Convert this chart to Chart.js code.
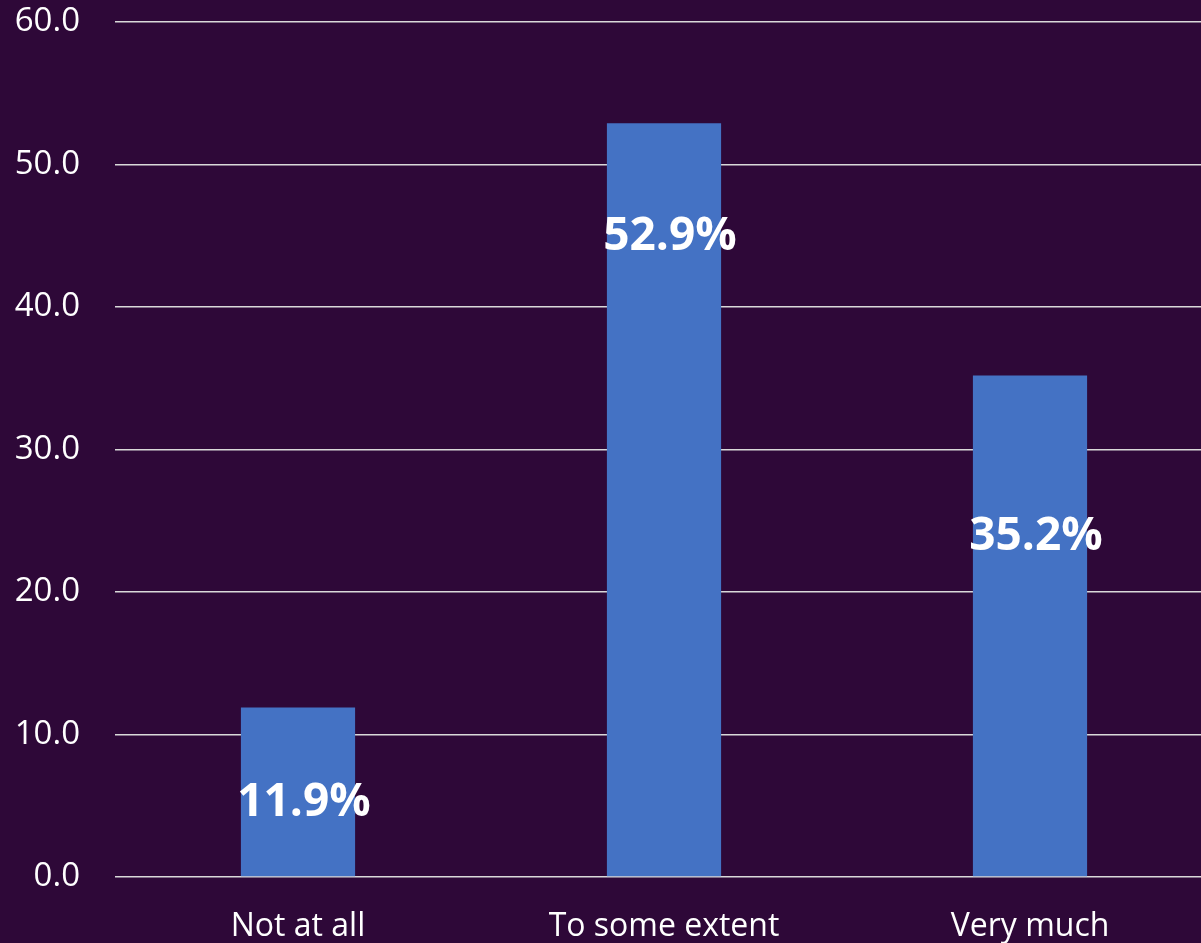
<!DOCTYPE html>
<html>
<head>
<meta charset="utf-8">
<script src="https://cdn.jsdelivr.net/npm/chart.js@4.4.1/dist/chart.umd.min.js"></script>
<style>
  html, body { margin: 0; padding: 0; background: #2E0838; overflow: hidden; }
  #wrap { width: 1213px; height: 943px; }
</style>
</head>
<body>
<div id="wrap"><canvas id="barChart" width="1213" height="943"></canvas></div>
<script>
// Chart data
var categories = ['Not at all', 'To some extent', 'Very much'];
var shares = [11.9, 52.9, 35.2];
// where each value label sits, in axis units (hand placed in the original)
var labelAnchor = [5.2, 44.9, 23.9];
var yTicks = [0, 10, 20, 30, 40, 50, 60];

// Draws the bold % labels on top of the bars
var valueLabels = {
    id: 'valueLabels',
    afterDatasetsDraw: function(chart) {
        var ctx = chart.ctx;
        var meta = chart.getDatasetMeta(0);
        var yScale = chart.scales.y;
        ctx.save();
        ctx.font = 'bold 46px "Open Sans"';
        ctx.fillStyle = '#FFFFFF';
        ctx.textAlign = 'center';
        ctx.textBaseline = 'middle';
        meta.data.forEach(function(bar, i) {
            ctx.fillText(shares[i].toFixed(1) + '%', bar.x + 6, yScale.getPixelForValue(labelAnchor[i]));
        });
        ctx.restore();
    }
};

var ctx = document.getElementById('barChart').getContext('2d');
new Chart(ctx, {
    type: 'bar',
    data: {
        labels: categories,
        datasets: [{
            data: shares,
            backgroundColor: '#4472C4',
            borderWidth: 0,
            categoryPercentage: 1,
            barPercentage: 0.312
        }]
    },
    options: {
        responsive: false,
        animation: false,
        layout: { padding: { top: 22, right: 0, left: 0, bottom: 0 } },
        plugins: {
            legend: { display: false },
            tooltip: { enabled: false }
        },
        scales: {
            x: {
                grid: { display: false, drawTicks: false },
                border: { display: false },
                ticks: {
                    color: '#FFFFFF',
                    font: { family: '"Open Sans"', size: 32 },
                    padding: 31,
                    maxRotation: 0
                },
                afterFit: function(scale) {
                    scale.height = 66;
                    scale.paddingLeft = 0;
                    scale.paddingRight = 0;
                }
            },
            y: {
                min: 0,
                max: 60,
                afterBuildTicks: function(scale) {
                    scale.ticks = yTicks.map(function(v) { return { value: v }; });
                },
                grid: { color: '#D9D9D9', lineWidth: 1.5, drawTicks: false },
                border: { display: false },
                ticks: {
                    color: '#FFFFFF',
                    font: { family: '"Open Sans"', size: 33 },
                    padding: 35,
                    callback: function(v) { return Number(v).toFixed(1); }
                },
                afterFit: function(scale) {
                    scale.width = 115;
                    scale.paddingTop = 0;
                    scale.paddingBottom = 0;
                }
            }
        }
    },
    plugins: [valueLabels]
});
</script>
</body>
</html>
